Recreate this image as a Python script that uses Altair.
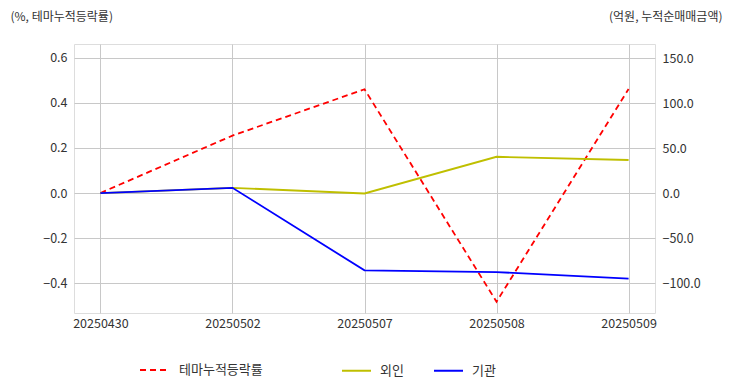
import altair as alt
import pandas as pd

dates = ["20250430", "20250502", "20250507", "20250508", "20250509"]
theme = [0.0, 0.255, 0.461, -0.483, 0.462]
foreign = [0.0, 5.8, -0.5, 40.3, 36.7]
inst = [0.0, 5.8, -85.9, -87.8, -95.2]

s_theme = "테마누적등락률"
s_foreign = "외인"
s_inst = "기관"

df_left = pd.DataFrame({"date": dates, "value": theme, "series": s_theme})
df_right = pd.concat([
    pd.DataFrame({"date": dates, "value": foreign, "series": s_foreign}),
    pd.DataFrame({"date": dates, "value": inst, "series": s_inst}),
])

FONT = "Noto Sans CJK KR"
TXT = "#333333"
GRID = "#c8c8c8"

x_enc = alt.X(
    "date:O",
    scale=alt.Scale(padding=0.2),
    axis=alt.Axis(title=None, labelAngle=0, labelFontSize=12.5, labelColor=TXT,
                  labelFont=FONT, ticks=False, domain=False, labelPadding=4,
                  grid=True, gridColor=GRID),
)

left = alt.Chart(df_left).mark_line(strokeWidth=1.8, strokeDash=[6, 4]).encode(
    x=x_enc,
    y=alt.Y("value:Q",
            scale=alt.Scale(domain=[-0.533, 0.662], nice=False, zero=False),
            axis=alt.Axis(values=[-0.4, -0.2, 0.0, 0.2, 0.4, 0.6], format=".1f",
                          title="(%, 테마누적등락률)", titleAngle=0, titleX=-64, titleY=-28,
                          titleAlign="left", titleBaseline="middle", titleFontWeight="normal",
                          titleFontSize=12, titleColor=TXT, titleFont=FONT,
                          labelFontSize=12.5, labelColor=TXT, labelFont=FONT,
                          ticks=False, domain=False, labelPadding=7,
                          grid=True, gridColor=GRID)),
    color=alt.Color("series:N",
                    scale=alt.Scale(domain=[s_theme], range=["#ff0000"]),
                    legend=alt.Legend(title=None, orient="none", legendX=65, legendY=311,
                                      direction="horizontal", symbolType="stroke",
                                      symbolSize=784, symbolStrokeWidth=2,
                                      symbolDash=[6, 4], labelOffset=10,
                                      labelFontSize=13, labelColor=TXT, labelFont=FONT)),
)

right = alt.Chart(df_right).mark_line(strokeWidth=1.8).encode(
    x=x_enc,
    y=alt.Y("value:Q",
            scale=alt.Scale(domain=[-133.3, 165.6], nice=False, zero=False),
            axis=alt.Axis(orient="right", values=[-100, -50, 0, 50, 100, 150], format=".1f",
                          title="(억원, 누적순매매금액)", titleAngle=0, titleX=67, titleY=-28,
                          titleAlign="right", titleBaseline="middle", titleFontWeight="normal",
                          titleFontSize=12, titleColor=TXT, titleFont=FONT,
                          labelFontSize=12.5, labelColor=TXT, labelFont=FONT,
                          ticks=False, domain=False, labelPadding=7, grid=False)),
    color=alt.Color("series:N",
                    scale=alt.Scale(domain=[s_foreign, s_inst], range=["#bfbf00", "#0000ff"]),
                    legend=alt.Legend(title=None, orient="none", legendX=267, legendY=311,
                                      direction="horizontal", symbolType="stroke",
                                      symbolSize=841, symbolStrokeWidth=2,
                                      labelOffset=8, columnPadding=26,
                                      labelFontSize=13, labelColor=TXT, labelFont=FONT)),
    order=alt.Order("series:N", sort="descending"),
)

chart = alt.layer(left, right).resolve_scale(
    y="independent", color="independent"
).resolve_legend(color="independent").properties(
    width=581, height=269,
    padding={"left": 2, "top": 2, "right": 2, "bottom": 2},
).configure_view(stroke="#cccccc", strokeWidth=1.5).configure(font=FONT)

chart.save("out.html", embed_options={"renderer": "svg", "actions": False})
